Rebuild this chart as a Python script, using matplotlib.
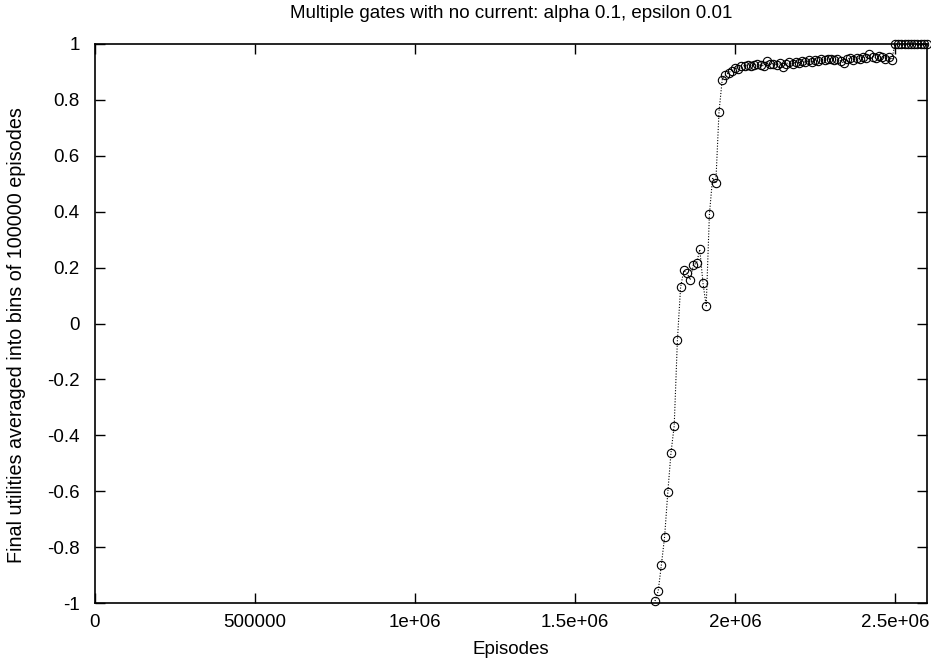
import matplotlib
matplotlib.use("Agg")
import matplotlib.pyplot as plt

# %% Data (episode bin starts, in thousands, and averaged final utilities)

EPISODES_K = [
    1750, 1760, 1770, 1780, 1790, 1800, 1810, 1820, 1830, 1840,
    1850, 1860, 1870, 1880, 1890, 1900, 1910, 1920, 1930, 1940,
    1950, 1960, 1970, 1980, 1990, 2000, 2010, 2020, 2030, 2040,
    2050, 2060, 2070, 2080, 2090, 2100, 2110, 2120, 2130, 2140,
    2150, 2160, 2170, 2180, 2190, 2200, 2210, 2220, 2230, 2240,
    2250, 2260, 2270, 2280, 2290, 2300, 2310, 2320, 2330, 2340,
    2350, 2360, 2370, 2380, 2390, 2400, 2410, 2420, 2430, 2440,
    2450, 2460, 2470, 2480, 2490, 2500, 2510, 2520, 2530, 2540,
    2550, 2560, 2570, 2580, 2590, 2600,
]

UTILITIES = [
    -0.993, -0.957, -0.863, -0.763, -0.604, -0.462, -0.366, -0.060, 0.130, 0.190,
    0.181, 0.156, 0.210, 0.216, 0.265, 0.144, 0.063, 0.390, 0.522, 0.502,
    0.757, 0.872, 0.889, 0.897, 0.905, 0.915, 0.912, 0.920, 0.923, 0.925,
    0.921, 0.926, 0.928, 0.924, 0.922, 0.940, 0.928, 0.930, 0.926, 0.932,
    0.916, 0.930, 0.934, 0.928, 0.936, 0.933, 0.938, 0.935, 0.941, 0.937,
    0.944, 0.940, 0.946, 0.942, 0.945, 0.948, 0.943, 0.947, 0.940, 0.932,
    0.946, 0.950, 0.944, 0.951, 0.948, 0.953, 0.950, 0.963, 0.955, 0.951,
    0.956, 0.952, 0.948, 0.953, 0.944, 1.000, 1.000, 1.000, 1.000, 1.000,
    1.000, 1.000, 1.000, 1.000, 1.000, 1.000,
]

X_TICKS = [0, 500000, 1000000, 1500000, 2000000, 2500000]
X_TICK_LABELS = ["0", "500000", "1e+06", "1.5e+06", "2e+06", "2.5e+06"]
Y_TICKS = [-1, -0.8, -0.6, -0.4, -0.2, 0, 0.2, 0.4, 0.6, 0.8, 1]
Y_TICK_LABELS = ["-1", "-0.8", "-0.6", "-0.4", "-0.2", "0",
                 "0.2", "0.4", "0.6", "0.8", "1"]

TITLE = "Multiple gates with no current: alpha 0.1, epsilon 0.01"
XLABEL = "Episodes"
YLABEL = "Final utilities averaged into bins of 100000 episodes"

# %% Plot

plt.rcParams["font.family"] = ["Liberation Sans", "DejaVu Sans"]
plt.rcParams["font.size"] = 13.5

W, H = 931, 659
fig = plt.figure(figsize=(W / 100, H / 100), dpi=100)
ax = fig.add_axes([95 / W, 1 - 603 / H, (927 - 95) / W, (603 - 44) / H])

episodes = [e * 1000 for e in EPISODES_K]
ax.plot(
    episodes,
    UTILITIES,
    color="black",
    linestyle=(0, (1, 1.5)),
    linewidth=0.8,
    marker="o",
    markersize=6,
    markerfacecolor="none",
    markeredgecolor="black",
    markeredgewidth=0.8,
    clip_on=False,
)

ax.set_xlim(0, 2600000)
ax.set_ylim(-1, 1)
ax.set_xticks(X_TICKS, labels=X_TICK_LABELS)
ax.set_yticks(Y_TICKS, labels=Y_TICK_LABELS)
ax.tick_params(axis="both", direction="in", length=7, width=1,
               top=True, right=True)
ax.tick_params(axis="x", pad=8)
ax.tick_params(axis="y", pad=11)
for s in ax.spines.values():
    s.set_linewidth(1.2)

fig.text(511 / W, 1 - 14 / H, TITLE, ha="center", va="center")
fig.text(511 / W, 1 - 649 / H, XLABEL, ha="center", va="center")
fig.text(17 / W, 1 - 335 / H, YLABEL, ha="center", va="center",
         rotation=90, fontsize=14.2)

fig.savefig("out.png", dpi=100)
